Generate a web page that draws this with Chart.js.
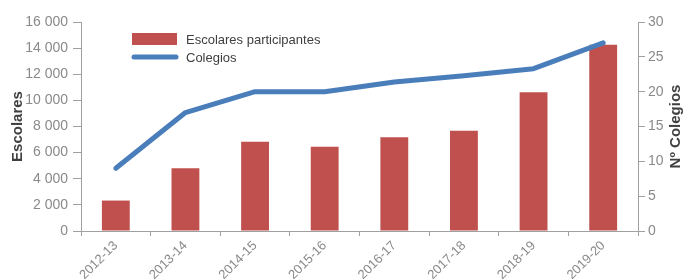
<!DOCTYPE html>
<html>
<head>
<meta charset="utf-8">
<script src="https://cdn.jsdelivr.net/npm/chart.js@4"></script>
<style>
  body { margin: 0; background: #fff; }
  #wrap { width: 683px; height: 280px; }
</style>
</head>
<body>
<div id="wrap"><canvas id="chart" width="683" height="280"></canvas></div>
<script>
"use strict";

// Data
const cursos = ["2012-13", "2013-14", "2014-15", "2015-16", "2016-17", "2017-18", "2018-19", "2019-20"];
const escolares = [2330, 4800, 6830, 6450, 7170, 7680, 10630, 14260];
const colegios = [9, 17, 20, 20, 21.4, 22.3, 23.3, 27];

const FONT = "'Liberation Sans Narrow', 'Arial Narrow', sans-serif";
const TICK_COLOR = "#8a8a8a";
const AXIS_COLOR = "#a0a0a0";
const TITLE_COLOR = "#404040";
const RED = "#c0504d";
const BLUE = "#4a7ebb";

const fmtMiles = v => String(v).replace(/\B(?=(\d{3})+(?!\d))/g, " ");

// Legend drawn inside the plot area, top-left
const insideLegend = {
    id: "insideLegend",
    afterDraw(chart) {
        const ctx = chart.ctx;
        const x0 = chart.chartArea.left + 51;
        const y0 = chart.chartArea.top + 17;
        ctx.save();
        ctx.font = "13px " + FONT;
        ctx.textBaseline = "middle";
        // bar item
        ctx.fillStyle = RED;
        ctx.fillRect(x0, y0 - 6, 45, 12);
        ctx.fillStyle = TITLE_COLOR;
        ctx.fillText(chart.data.datasets[0].label, x0 + 54, y0 + 1);
        // line item
        ctx.strokeStyle = BLUE;
        ctx.lineWidth = 5;
        ctx.lineCap = "round";
        ctx.beginPath();
        ctx.moveTo(x0 + 2, y0 + 18);
        ctx.lineTo(x0 + 44, y0 + 18);
        ctx.stroke();
        ctx.fillText(chart.data.datasets[1].label, x0 + 54, y0 + 19);
        ctx.restore();
    }
};

// Right axis title, read bottom to top like the left one
const rightTitle = {
    id: "rightTitle",
    afterDraw(chart) {
        const ctx = chart.ctx;
        const a = chart.chartArea;
        ctx.save();
        ctx.translate(676, (a.top + a.bottom) / 2);
        ctx.rotate(-Math.PI / 2);
        ctx.font = "bold 15px " + FONT;
        ctx.fillStyle = TITLE_COLOR;
        ctx.textAlign = "center";
        ctx.textBaseline = "middle";
        ctx.fillText("Nº Colegios", 0, 0);
        ctx.restore();
    }
};

const ctx = document.getElementById("chart").getContext("2d");
new Chart(ctx, {
    type: "bar",
    data: {
        labels: cursos,
        datasets: [
            {
                type: "bar",
                label: "Escolares participantes",
                data: escolares,
                backgroundColor: RED,
                yAxisID: "y",
                barPercentage: 0.8,
                categoryPercentage: 0.5,
                order: 2
            },
            {
                type: "line",
                label: "Colegios",
                data: colegios,
                borderColor: BLUE,
                borderWidth: 5,
                borderCapStyle: "round",
                borderJoinStyle: "round",
                pointRadius: 0,
                tension: 0,
                fill: false,
                yAxisID: "y1",
                order: 1
            }
        ]
    },
    options: {
        responsive: false,
        animation: false,
        layout: { padding: { top: 22, left: 0, right: 0, bottom: 0 } },
        plugins: {
            legend: { display: false },
            tooltip: { enabled: false }
        },
        scales: {
            x: {
                grid: { drawOnChartArea: false, drawTicks: true, tickLength: 5, color: AXIS_COLOR, offset: true },
                border: { color: AXIS_COLOR, width: 1 },
                ticks: {
                    color: TICK_COLOR,
                    font: { family: FONT, size: 13 },
                    maxRotation: 45,
                    minRotation: 45,
                    padding: 2
                },
                afterFit: s => { s.height = 49; }
            },
            y: {
                position: "left",
                min: 0,
                max: 16000,
                grid: { drawOnChartArea: false, drawTicks: true, tickLength: 8, color: AXIS_COLOR },
                border: { color: AXIS_COLOR, width: 1 },
                ticks: {
                    stepSize: 2000,
                    color: TICK_COLOR,
                    font: { family: FONT, size: 14 },
                    padding: 5,
                    callback: v => fmtMiles(v)
                },
                title: {
                    display: true,
                    text: "Escolares",
                    color: TITLE_COLOR,
                    font: { family: FONT, size: 15, weight: "bold" },
                    padding: { top: 9, bottom: 0 }
                },
                afterFit: s => { s.width = 81; }
            },
            y1: {
                position: "right",
                min: 0,
                max: 30,
                grid: { drawOnChartArea: false, drawTicks: true, tickLength: 7, color: AXIS_COLOR },
                border: { color: AXIS_COLOR, width: 1 },
                ticks: {
                    stepSize: 5,
                    color: TICK_COLOR,
                    font: { family: FONT, size: 14 },
                    padding: 3
                },
                afterFit: s => { s.width = 45; }
            }
        }
    },
    plugins: [insideLegend, rightTitle]
});
</script>
</body>
</html>
